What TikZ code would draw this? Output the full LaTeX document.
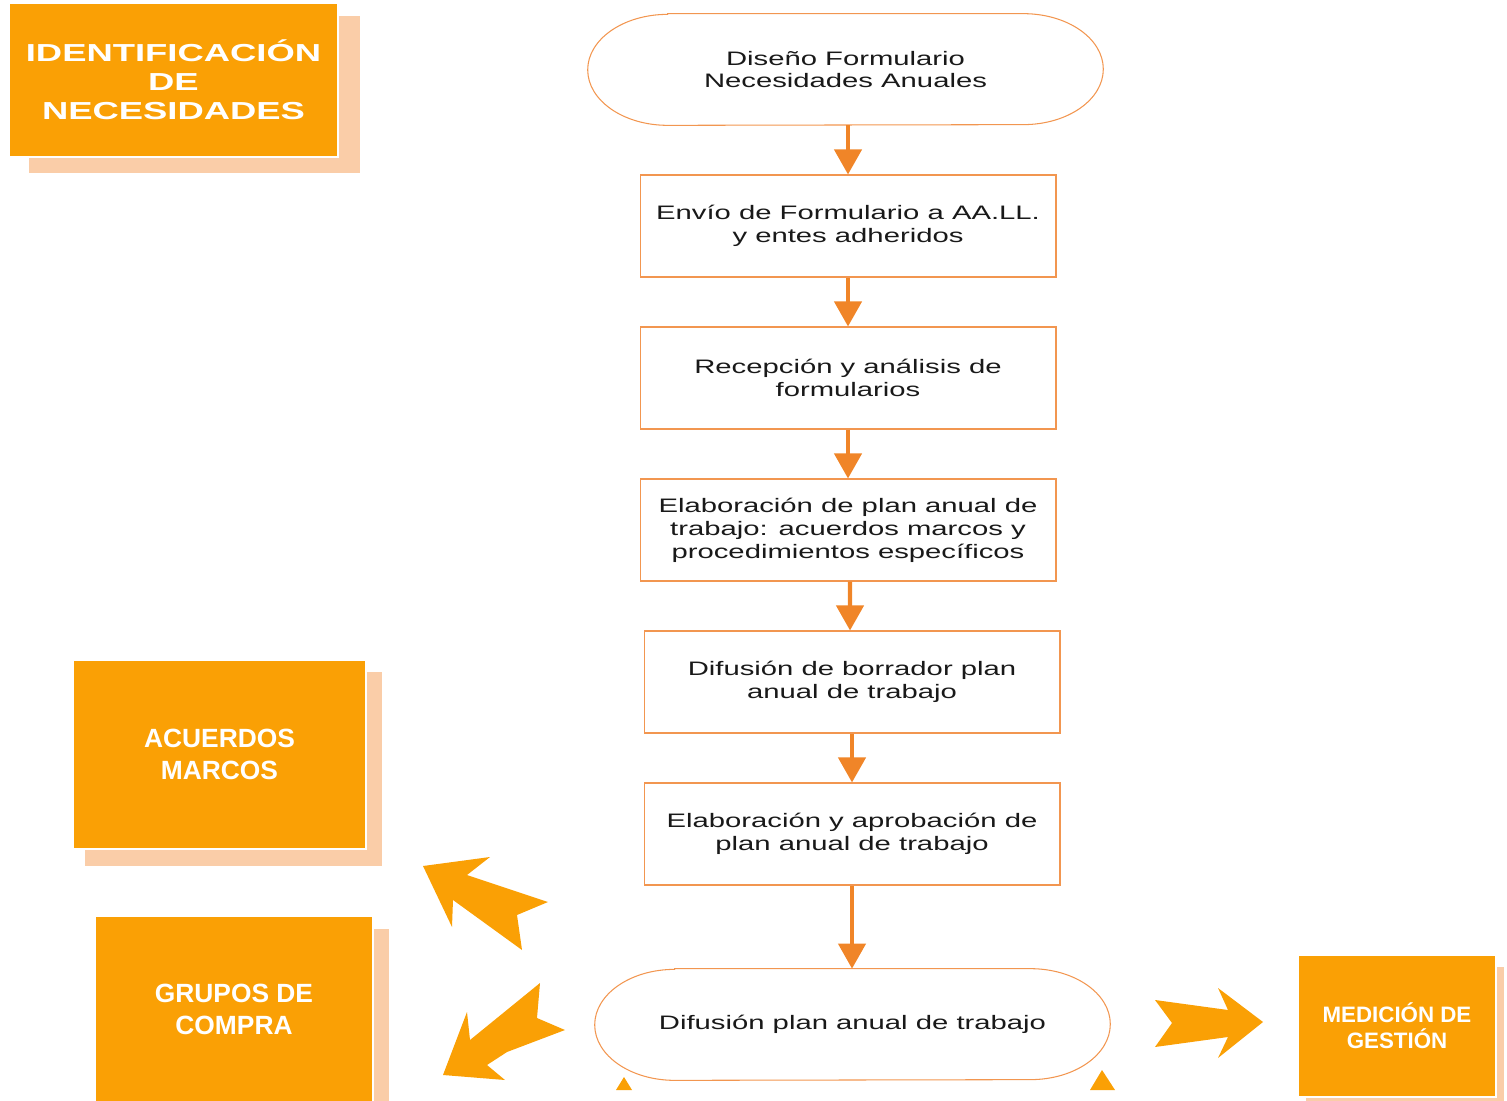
\documentclass[tikz,border=0pt]{standalone}
\usepackage{fontspec}
\setmainfont{Liberation Sans}
\newfontfamily\flowfont[FakeStretch=1.5]{Liberation Sans}
\newfontfamily\titlefont[FakeStretch=1.48]{Liberation Sans}
\usetikzlibrary{arrows.meta}

\definecolor{naranja}{RGB}{250,160,5}
\definecolor{sombra}{RGB}{250,205,168}
\definecolor{flecha}{RGB}{240,133,40}
\definecolor{borde}{RGB}{242,150,80}

\tikzset{
  pasobox/.style={draw=borde, line width=0.6pt, minimum width=8.32cm, minimum height=2.04cm,
    align=center, text=black!90, font=\flowfont\fontsize{11.1}{13}\selectfont},
  terminal/.style={minimum width=10.3cm, minimum height=2.22cm,
    align=center, text=black!90, font=\flowfont\fontsize{11.1}{13}\selectfont},
  bloque/.style={fill=naranja, draw=white, line width=0.8pt, align=center, text=white,
    font=\bfseries\fontsize{15}{18.2}\selectfont},
  flujo/.style={flecha, line width=2.4pt, -{Triangle[width=0.54cm, length=0.5cm]}},
  flechota/.style={fill=naranja}
}

\newcommand{\terminalline}[1]{%
  \draw[borde, line width=0.6pt] ([xshift=1.6cm]#1.north west) -- ([xshift=-1.6cm]#1.north east)
    arc[start angle=90, end angle=-90, x radius=1.6cm, y radius=1.11cm]
    -- ([xshift=1.6cm]#1.south west)
    arc[start angle=270, end angle=90, x radius=1.6cm, y radius=1.11cm] -- cycle;}

\begin{document}
\begin{tikzpicture}[x=0.02cm, y=-0.02cm]
  \clip (0,0) rectangle (1507,1101);

  \fill[sombra] (29,16) rectangle (360,173);
  \node (ident) at (173.5,80) [bloque, minimum width=6.58cm, minimum height=3.08cm,
    font=\titlefont\bfseries\fontsize{14}{16.5}\selectfont] {IDENTIFICACIÓN\\DE\\NECESIDADES};

  \node (dis) at (845.5,69.5) [terminal] {Diseño Formulario\\Necesidades Anuales};
  \terminalline{dis}
  \node (env) at (848,226) [pasobox] {Envío de Formulario a AA.LL.\\y entes adheridos};
  \node (rec) at (848,378) [pasobox] {Recepción y análisis de\\formularios};
  \node (ela) at (848,530) [pasobox] {Elaboración de plan anual de\\trabajo: acuerdos marcos y\\procedimientos específicos};
  \node (dif) at (852,682) [pasobox] {Difusión de borrador plan\\anual de trabajo};
  \node (apr) at (852,834) [pasobox] {Elaboración y aprobación de\\plan anual de trabajo};
  \node (pub) at (852.5,1024.5) [terminal] {Difusión plan anual de trabajo};
  \terminalline{pub}

  \draw[flujo] (env.north |- dis.south) -- (env.north);
  \draw[flujo] (env) -- (rec);
  \draw[flujo] (rec) -- (ela);
  \draw[flujo] ([xshift=0.04cm]ela.south) -- ([xshift=-0.04cm]dif.north);
  \draw[flujo] (dif) -- (apr);
  \draw[flujo] (apr.south) -- (apr.south |- pub.north);

  \fill[sombra] (85,672) rectangle (382,866);
  \node (acu) at (219.5,754.5) [bloque, minimum width=5.86cm, minimum height=3.78cm] {ACUERDOS\\MARCOS};
  \fill[sombra] (107,929) rectangle (389,1110);
  \node (gru) at (234,1009) [bloque, minimum width=5.56cm, minimum height=3.72cm] {GRUPOS DE\\COMPRA};
  \fill[sombra] (1306,967) rectangle (1504,1110);
  \node (med) at (1397,1026) [bloque, minimum width=3.96cm, minimum height=2.84cm,
    font=\bfseries\fontsize{12.7}{14.7}\selectfont] {MEDICIÓN DE\\GESTIÓN};

  \fill[flechota] (423,866) -- (452,927) -- (453,900) -- (522,950) -- (517,915) -- (548,902) -- (467,875) -- (490,857) -- cycle;
  \fill[flechota] (443,1075) -- (467,1012) -- (470,1040) -- (540,983) -- (537,1018) -- (565,1030) -- (507,1052) -- (487,1065) -- (505,1080) -- cycle;
  \fill[flechota] (1155,1000) -- (1172,1023) -- (1155,1047) -- (1228,1037) -- (1218,1058) -- (1263,1022) -- (1218,988) -- (1228,1010) -- cycle;

  \fill[naranja] (616,1090) -- (624,1077) -- (632,1090) -- cycle;
  \fill[naranja] (1090,1090) -- (1102,1070) -- (1115,1090) -- cycle;
\end{tikzpicture}
\end{document}
